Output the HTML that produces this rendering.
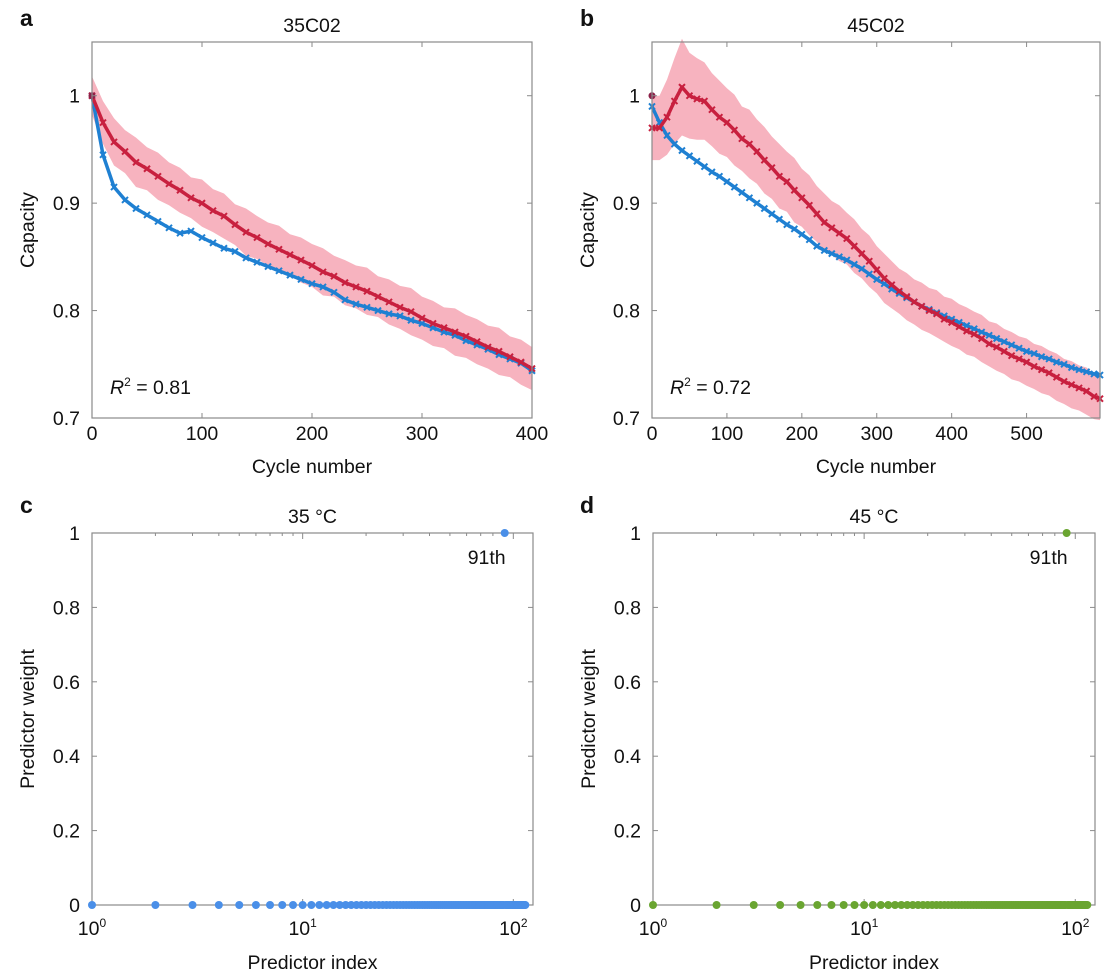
<!DOCTYPE html>
<html><head><meta charset="utf-8"><style>
body{margin:0;background:#fff;}
svg{display:block;font-family:"Liberation Sans",sans-serif;}
</style></head><body>
<svg id="fig" width="1109" height="976" viewBox="0 0 1109 976"></svg>
<script>
// ---- data ----
const cycA = [0,10,20,30,40,50,60,70,80,90,100,110,120,130,140,150,160,170,180,190,200,210,220,230,240,250,260,270,280,290,300,310,320,330,340,350,360,370,380,390,400];
const predA = [1.0,0.975,0.957,0.948,0.938,0.932,0.925,0.918,0.912,0.905,0.9,0.893,0.888,0.88,0.873,0.868,0.862,0.857,0.852,0.847,0.842,0.836,0.832,0.826,0.822,0.818,0.813,0.808,0.803,0.799,0.793,0.788,0.784,0.78,0.776,0.771,0.766,0.762,0.757,0.752,0.746];
const actA = [1.0,0.945,0.915,0.903,0.895,0.889,0.883,0.877,0.872,0.874,0.868,0.863,0.858,0.855,0.849,0.845,0.841,0.837,0.833,0.829,0.825,0.822,0.817,0.81,0.806,0.803,0.8,0.797,0.795,0.791,0.788,0.784,0.78,0.777,0.772,0.768,0.764,0.759,0.755,0.751,0.744];
const bandA = [0.018,0.02,0.022,0.02,0.023,0.02,0.022,0.02,0.021,0.019,0.022,0.02,0.021,0.019,0.022,0.02,0.02,0.022,0.019,0.021,0.02,0.022,0.019,0.021,0.02,0.022,0.019,0.021,0.02,0.022,0.02,0.021,0.019,0.022,0.02,0.021,0.02,0.022,0.019,0.021,0.02];
const cycB = [0,10,20,30,40,50,60,70,80,90,100,110,120,130,140,150,160,170,180,190,200,210,220,230,240,250,260,270,280,290,300,310,320,330,340,350,360,370,380,390,400,410,420,430,440,450,460,470,480,490,500,510,520,530,540,550,560,570,580,590,598];
const predB = [0.97,0.97,0.98,0.995,1.008,1.0,0.997,0.995,0.987,0.98,0.975,0.968,0.96,0.955,0.948,0.94,0.933,0.925,0.92,0.912,0.905,0.898,0.89,0.882,0.877,0.872,0.867,0.86,0.853,0.846,0.838,0.83,0.824,0.818,0.813,0.808,0.804,0.8,0.797,0.792,0.789,0.785,0.781,0.778,0.774,0.769,0.766,0.762,0.758,0.755,0.752,0.748,0.745,0.742,0.738,0.734,0.731,0.728,0.725,0.72,0.718];
const actB = [0.99,0.975,0.963,0.955,0.949,0.944,0.939,0.934,0.929,0.925,0.92,0.915,0.91,0.905,0.9,0.895,0.89,0.885,0.88,0.876,0.871,0.866,0.86,0.856,0.853,0.85,0.847,0.843,0.839,0.834,0.829,0.825,0.82,0.816,0.812,0.808,0.804,0.801,0.798,0.795,0.792,0.789,0.786,0.783,0.78,0.777,0.774,0.771,0.768,0.765,0.762,0.76,0.757,0.755,0.752,0.75,0.747,0.745,0.743,0.741,0.74];
const bandB = [0.03,0.03,0.035,0.04,0.045,0.04,0.038,0.036,0.034,0.034,0.032,0.033,0.03,0.032,0.03,0.031,0.029,0.03,0.028,0.03,0.027,0.028,0.026,0.027,0.025,0.026,0.024,0.025,0.023,0.024,0.022,0.023,0.022,0.021,0.022,0.021,0.022,0.021,0.022,0.021,0.022,0.021,0.022,0.021,0.022,0.021,0.022,0.021,0.022,0.021,0.022,0.021,0.022,0.021,0.022,0.021,0.022,0.021,0.022,0.021,0.02];
const weightsC = [
0,0,0,0,0,0,0,0,0,0, 0,0,0,0,0,0,0,0,0,0, 0,0,0,0,0,0,0,0,0,0, 0,0,0,0,0,0,0,0,0,0,
0,0,0,0,0,0,0,0,0,0, 0,0,0,0,0,0,0,0,0,0, 0,0,0,0,0,0,0,0,0,0, 0,0,0,0,0,0,0,0,0,0,
0,0,0,0,0,0,0,0,0,0, 1,0,0,0,0,0,0,0,0,0, 0,0,0,0,0,0,0,0,0,0, 0,0,0,0];
const weightsD = [
0,0,0,0,0,0,0,0,0,0, 0,0,0,0,0,0,0,0,0,0, 0,0,0,0,0,0,0,0,0,0, 0,0,0,0,0,0,0,0,0,0,
0,0,0,0,0,0,0,0,0,0, 0,0,0,0,0,0,0,0,0,0, 0,0,0,0,0,0,0,0,0,0, 0,0,0,0,0,0,0,0,0,0,
0,0,0,0,0,0,0,0,0,0, 1,0,0,0,0,0,0,0,0,0, 0,0,0,0,0,0,0,0,0,0, 0,0,0,0];
const capTicks = [0.7,0.8,0.9,1];
const capTickLabels = ["0.7","0.8","0.9","1"];
const cycTicksA = [0,100,200,300,400];
const cycTicksB = [0,100,200,300,400,500];
const wTicks = [0,0.2,0.4,0.6,0.8,1];
const wTickLabels = ["0","0.2","0.4","0.6","0.8","1"];

const NS="http://www.w3.org/2000/svg";
const svg=document.getElementById('fig');
const FS=19.5;
function mk(tag,attrs,parent,text){const e=document.createElementNS(NS,tag);for(const k in attrs)e.setAttribute(k,attrs[k]);if(text!==undefined)e.textContent=text;(parent||svg).appendChild(e);return e;}

function lin(d0,d1,r0,r1){return v=>r0+(v-d0)/(d1-d0)*(r1-r0);}
function logs(d0,d1,r0,r1){return v=>r0+(Math.log10(v)-Math.log10(d0))/(Math.log10(d1)-Math.log10(d0))*(r1-r0);}

function frame(g,L,T,R,B){
  const r=mk('rect',{x:L,y:T,width:R-L,height:B-T,fill:'none',stroke:'#8a8a8a','stroke-width':1.2},g);
  
  
}
function text(g,x,y,s,opt,name){
  const t=mk('text',Object.assign({x:x,y:y,'font-size':FS,fill:'#111','text-anchor':'middle'},opt||{}),g,s);
  
  
  return t;
}

function capPanel(id,L,T,R,B,xmax,cyc,pred,act,band,xt,title,letter,r2,letterX){
  const g=mk('g',{});
  
  
  const X=lin(0,xmax,L,R), Y=lin(0.7,1.05,B,T);
  let up=cyc.map((c,i)=>X(c)+','+Y(pred[i]+band[i]));
  let lo=cyc.map((c,i)=>X(c)+','+Y(pred[i]-band[i])).reverse();
  const bp=mk('polygon',{points:up.concat(lo).join(' '),fill:'#f7b3bf',stroke:'none'},g);
  
  
  function series(vals,col,name){
    const gs=mk('g',{},g);
    
    
    mk('polyline',{points:cyc.map((c,i)=>X(c)+','+Y(vals[i])).join(' '),fill:'none',stroke:col,'stroke-width':3.5,'stroke-linejoin':'round'},gs);
    cyc.forEach((c,i)=>{
      const x=X(c),y=Y(vals[i]);
      const p=mk('path',{d:`M${x-3},${y-3}L${x+3},${y+3}M${x-3},${y+3}L${x+3},${y-3}`,stroke:col,'stroke-width':2},gs);
      
      
    });
  }
  series(act,'#1f80d2','actual-series');
  series(pred,'#c8203f','predicted-series');
  const d=mk('circle',{cx:X(0),cy:Y(1),r:3.5,fill:'#8c2048'},g);
  
  
  frame(g,L,T,R,B);
  capTicks.forEach((v,i)=>{
    const y=Y(v);
    mk('line',{x1:L,x2:L+5,y1:y,y2:y,stroke:'#8a8a8a'},g);
    mk('line',{x1:R,x2:R-5,y1:y,y2:y,stroke:'#8a8a8a'},g);
    text(g,L-12,y+7,capTickLabels[i],{'text-anchor':'end'},'y-tick-label');
  });
  xt.forEach(v=>{
    const x=X(v);
    mk('line',{x1:x,x2:x,y1:B,y2:B-5,stroke:'#8a8a8a'},g);
    mk('line',{x1:x,x2:x,y1:T,y2:T+5,stroke:'#8a8a8a'},g);
    text(g,x,B+22,String(v),{},'x-tick-label');
  });
  text(g,(L+R)/2,B+55,'Cycle number',{},'x-axis-title');
  text(g,0,0,'Capacity',{transform:`translate(${L-58},${(T+B)/2}) rotate(-90)`},'y-axis-title');
  text(g,(L+R)/2,T-10,title,{},'chart-title');
  text(g,letterX,26,letter,{'font-size':23,'font-weight':'bold','text-anchor':'start'},'panel-letter');
  const rt=mk('text',{x:L+18,y:B-24,'font-size':FS,fill:'#111'},g);
  
  
  mk('tspan',{'font-style':'italic'},rt,'R');
  mk('tspan',{dy:-8,'font-size':12},rt,'2');
  mk('tspan',{dy:8},rt,' = '+r2);
}

function wPanel(id,L,T,R,B,weights,col,title,letter,letterX){
  const g=mk('g',{});
  
  
  const X=logs(1,124,L,R), Y=lin(0,1,B,T);
  frame(g,L,T,R,B);
  [1,2,3,4,5,6,7,8,9,10,20,30,40,50,60,70,80,90,100].forEach(v=>{
    const x=X(v), len=(v===1||v===10||v===100)?6:3;
    mk('line',{x1:x,x2:x,y1:T,y2:T+len,stroke:'#8a8a8a'},g);
    mk('line',{x1:x,x2:x,y1:B,y2:B-len,stroke:'#8a8a8a'},g);
  });
  wTicks.forEach((v,i)=>{
    const y=Y(v);
    mk('line',{x1:L,x2:L+5,y1:y,y2:y,stroke:'#8a8a8a'},g);
    mk('line',{x1:R,x2:R-5,y1:y,y2:y,stroke:'#8a8a8a'},g);
    text(g,L-12,y+7,wTickLabels[i],{'text-anchor':'end'},'y-tick-label');
  });
  [0,1,2].forEach(e=>{
    const t=text(g,X(Math.pow(10,e)),B+30,'10',{},'x-tick-label');
    mk('tspan',{dy:-8,'font-size':12},t,String(e));
  });
  weights.forEach((w,i)=>{
    const c=mk('circle',{cx:X(i+1),cy:Y(w),r:4,fill:col},g);
    
    
  });
  const top=weights.indexOf(Math.max(...weights));
  text(g,X(top+1)-18,Y(weights[top])+31,(top+1)+'th',{},'peak-annotation');
  text(g,(L+R)/2,B+64,'Predictor index',{},'x-axis-title');
  text(g,0,0,'Predictor weight',{transform:`translate(${L-58},${(T+B)/2}) rotate(-90)`},'y-axis-title');
  text(g,(L+R)/2,T-10,title,{},'chart-title');
  text(g,letterX,513,letter,{'font-size':23,'font-weight':'bold','text-anchor':'start'},'panel-letter');
}

capPanel('a',92,42,532,418,400,cycA,predA,actA,bandA,cycTicksA,'35C02','a',0.81,20);
capPanel('b',652,42,1100,418,598,cycB,predB,actB,bandB,cycTicksB,'45C02','b',0.72,580);
wPanel('c',92,533,533,905,weightsC,'#4a8fe8','35 °C','c',20);
wPanel('d',653,533,1095,905,weightsD,'#6aa531','45 °C','d',580);
</script>
</body></html>
